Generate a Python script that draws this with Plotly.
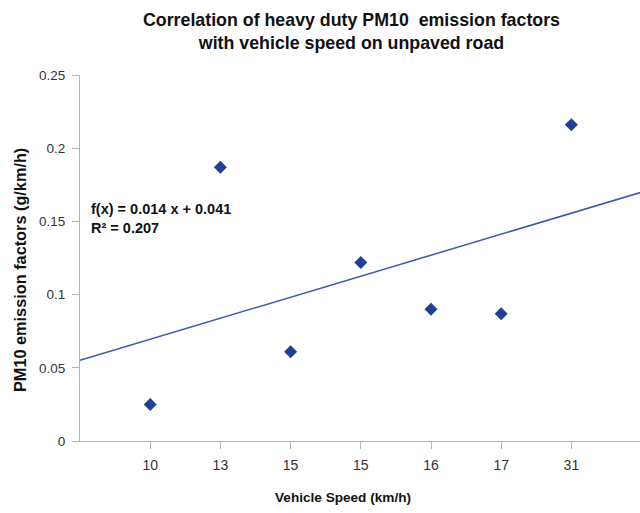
import numpy as np
import plotly.graph_objects as go

speed_labels = ["10", "13", "15", "15", "16", "17", "31"]
pm10_factors = [0.025, 0.187, 0.061, 0.122, 0.090, 0.087, 0.216]
positions = list(range(1, len(speed_labels) + 1))
yticks = [0, 0.05, 0.1, 0.15, 0.2, 0.25]
ytick_text = ["0", "0.05", "0.1", "0.15", "0.2", "0.25"]

FONT = "Liberation Sans, Arial, sans-serif"

slope, intercept = np.polyfit(positions, pm10_factors, 1)

W, H = 640, 513
L, T = 80, 75
B = H - 441
PW, PH = W - L, H - T - B
XMAX = PW / 70.2
xr = np.array([0, XMAX + 0.5])


def px(xp):
    return (xp - L) / PW


def py(yp):
    return (441 - yp) / PH


fig = go.Figure()
fig.add_trace(go.Scatter(x=xr, y=slope * xr + intercept, mode="lines",
                         line=dict(color="#3a58ad", width=1.5), hoverinfo="skip"))
fig.add_trace(go.Scatter(x=positions, y=pm10_factors, mode="markers",
                         marker=dict(symbol="diamond", size=10, color="#1f3f99")))

axis_common = dict(showgrid=False, zeroline=False, showline=True, linecolor="#b3b3b3",
                   linewidth=1, ticks="outside", tickcolor="#b3b3b3", ticklen=7)

fig.update_layout(
    width=W, height=H,
    margin=dict(l=L, r=0, t=T, b=B),
    plot_bgcolor="white", paper_bgcolor="white",
    showlegend=False,
    font=dict(family=FONT, size=13, color="#333"),
    xaxis=dict(range=[0, XMAX], tickvals=positions, ticktext=speed_labels,
               tickfont=dict(size=14, color="#333"), ticklabelstandoff=4, **axis_common),
    yaxis=dict(range=[0, 0.25], tickvals=yticks, ticktext=ytick_text,
               tickfont=dict(size=13.5, color="#333"), ticklabelstandoff=4, **axis_common),
    annotations=[
        dict(text="<b>Correlation of heavy duty PM10  emission factors<br>with vehicle speed on unpaved road</b>",
             xref="paper", yref="paper", x=px(351), y=py(31),
             xanchor="center", yanchor="middle", showarrow=False,
             font=dict(family=FONT, size=17.8, color="#111")),
        dict(text="<b>Vehicle Speed (km/h)</b>", xref="paper", yref="paper",
             x=px(343), y=py(497), xanchor="center", yanchor="middle",
             showarrow=False, font=dict(family=FONT, size=13.6, color="#111")),
        dict(text="<b>PM10 emission factors (g/km/h)</b>", xref="paper", yref="paper",
             x=px(20), y=py(270), xanchor="center", yanchor="middle",
             textangle=-90, showarrow=False, font=dict(family=FONT, size=16.3, color="#111")),
        dict(text="<b>f(x) = 0.014 x + 0.041<br>R² = 0.207</b>", xref="paper", yref="paper",
             x=px(89), y=py(218), xanchor="left", yanchor="middle", align="left",
             showarrow=False, font=dict(family=FONT, size=14.5, color="#111")),
    ],
)

fig.write_html("out.html", config={"displayModeBar": False},
               post_script="document.body.style.margin='0';document.body.style.overflow='hidden';")
